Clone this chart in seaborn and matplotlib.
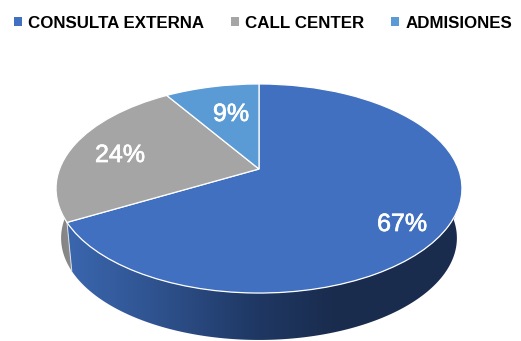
import numpy as np
import matplotlib
matplotlib.use("Agg")
import matplotlib.pyplot as plt
import matplotlib.patheffects as pe
from matplotlib.patches import Patch, Polygon
from matplotlib.transforms import Transform
import seaborn as sns

categories = ["CONSULTA EXTERNA", "CALL CENTER", "ADMISIONES"]
shares = [67, 24, 9]
top_colors = ["#4170C0", "#A5A5A5", "#5B9BD5"]

sns.set_theme(style="white")
plt.rcParams["font.family"] = ["Liberation Sans", "DejaVu Sans"]


class TiltedDisk(Transform):
    """Projects the unit pie disk onto canvas pixels with a receding perspective."""
    input_dims = output_dims = 2
    is_separable = False
    has_inverse = False

    def __init__(self, scale=1.0, drop=0.0):
        super().__init__()
        self.scale = scale
        self.drop = drop

    def transform_non_affine(self, values):
        xy = np.asarray(values, dtype=float)
        k = 0.1866
        w = 1 + k * xy[:, 1]
        px = 259 + self.scale * 199.4 * xy[:, 0] / w
        py = 169 + self.drop - self.scale * 100.9 * xy[:, 1] / w
        return np.column_stack([px, py])


fig = plt.figure(figsize=(5.21, 3.41), dpi=100)
ax = fig.add_axes([0, 0, 1, 1])

wedges, _, pct_texts = ax.pie(
    shares, colors=top_colors, startangle=90, counterclock=False,
    autopct="%.0f%%", wedgeprops={"edgecolor": "white", "linewidth": 0.9, "zorder": 3},
)

upper = TiltedDisk()
lower = TiltedDisk(scale=0.975, drop=50)
for wedge in wedges:
    wedge.set_transform(upper + ax.transData)

# Colour ramps for the side walls, from left to right across the canvas
wall_ramps = [
    ([70, 150, 255, 335], [(58, 102, 174), (48, 84, 145), (31, 56, 100), (26, 44, 78)]),
    ([55, 75], [(128, 128, 128), (142, 142, 142)]),
]
WALL_TOP_Y = 203

for wedge, (stops_x, stops_rgb) in zip(wedges, wall_ramps):
    angles = np.radians(np.linspace(wedge.theta1, wedge.theta2, 361))
    rim = np.column_stack([np.cos(angles), np.sin(angles)])
    a, b = upper.transform(rim), lower.transform(rim)
    # Only the part of each rim that faces the viewer bounds the wall
    a = a[a[:, 1] >= WALL_TOP_Y]
    b = b[b[:, 1] >= 169 + lower.drop]
    outline = Polygon(np.vstack([a, b[::-1]]), closed=True, transform=ax.transData,
                      facecolor="none", edgecolor="none")
    ax.add_patch(outline)
    rgb = np.asarray(stops_rgb, dtype=float)
    columns = np.arange(40, 480)
    ramp = np.column_stack([np.interp(columns, stops_x, rgb[:, i]) for i in range(3)]) / 255
    image = ax.imshow(ramp[np.newaxis, :, :], extent=(40, 480, 345, 190), aspect="auto",
                      interpolation="bilinear", zorder=2)
    image.set_clip_path(outline)

# Thin light seam where the two visible walls meet
seam = np.radians(wedges[0].theta1)
seam_rim = np.array([[np.cos(seam), np.sin(seam)]])
seam_ends = np.vstack([upper.transform(seam_rim), lower.transform(seam_rim)])
ax.plot(seam_ends[:, 0], seam_ends[:, 1], color="#D9DEE8", lw=0.7, zorder=2.5)

ax.set_aspect("auto")
ax.set_xlim(0, 521)
ax.set_ylim(341, 0)
ax.axis("off")

pct_places = [(402, 224), (120, 155), (231, 114)]
for label, place in zip(pct_texts, pct_places):
    label.set_transform(ax.transData)
    label.set_position(place)
    label.set(color="white", fontsize=18, ha="center", va="center", zorder=5,
              path_effects=[pe.withStroke(linewidth=0.5, foreground="white")])

handles = [Patch(facecolor=c, edgecolor="none") for c in top_colors]
ax.legend(handles, categories, ncol=3, loc="center left", bbox_to_anchor=(0.027, 0.932),
          frameon=False, prop={"size": 12.2, "weight": "bold"}, labelcolor="black",
          handlelength=0.48, handleheight=0.48, handletextpad=0.36, columnspacing=1.58,
          borderaxespad=0, borderpad=0)

fig.savefig("out.png", dpi=100)
